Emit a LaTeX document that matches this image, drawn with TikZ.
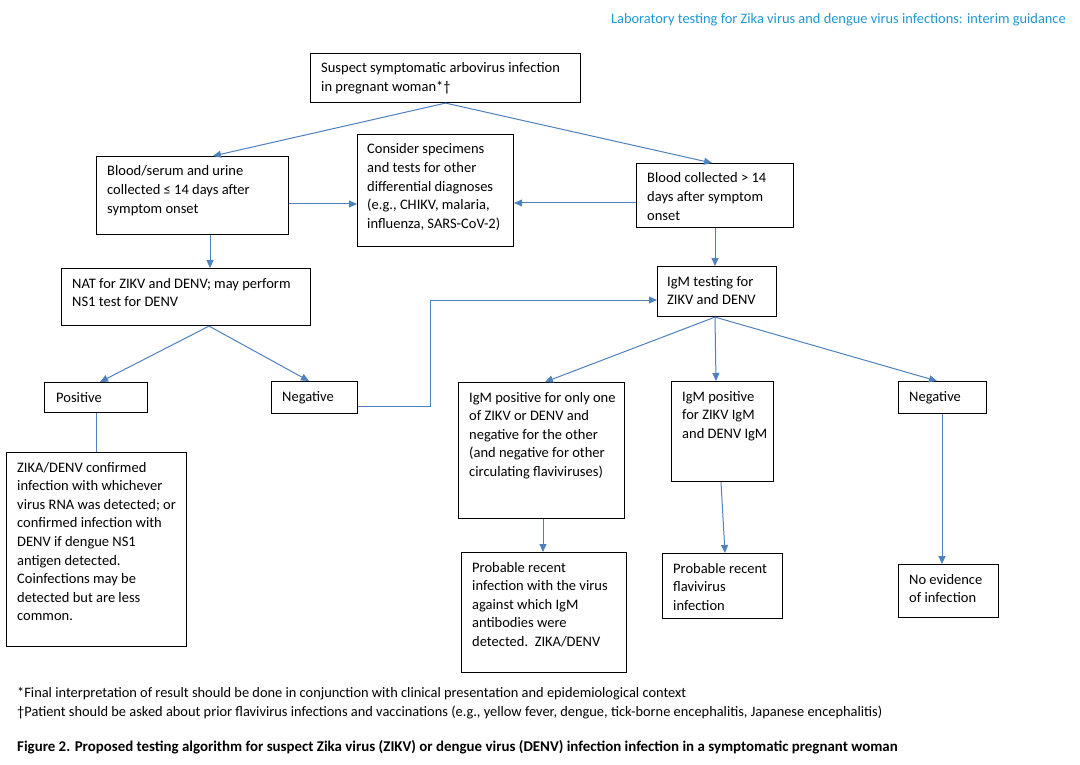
\documentclass[tikz,border=0pt]{standalone}
\usepackage{fontspec}
\setmainfont{Carlito}
\usetikzlibrary{arrows.meta}
\definecolor{conncol}{RGB}{79,129,189}
\definecolor{hdrcol}{RGB}{32,152,214}
\newcommand\bodyfont{\fontsize{14.5}{18.6}\selectfont}
\tikzset{
 x=1pt, y=-1pt,
 boxshape/.style={draw=black, line width=1.1pt, inner sep=0pt, anchor=north west},
 txt/.style={anchor=base west, inner sep=0pt, font=\bodyfont},
 conn/.style={draw=conncol, line width=1pt, -{Triangle[length=8pt,width=7pt]}},
 plainconn/.style={draw=conncol, line width=1pt},
}
\newcommand\bxs[7]{%
 \node[boxshape, minimum width={#4-#2}, minimum height={#5-#3}] (#1) at (#2,#3) {};
 \node[txt] (#1t) at (#2+#6, #3+20) {\begin{tabular}[t]{@{}l@{}}#7\end{tabular}};
}
\begin{document}
\begin{tikzpicture}
\useasboundingbox (0,0) rectangle (1080,765);
\fill[white] (0,0) rectangle (1080,765);
\node[anchor=base east, inner sep=0pt, font=\fontsize{14.4}{16}\selectfont, text=hdrcol] (hdr) at (1066,24) {Laboratory testing for Zika virus and dengue virus infections: interim guidance};

\bxs{top}{310}{53}{580}{102}{11}{Suspect symptomatic arbovirus infection\\in pregnant woman*†}
\bxs{bs}{96}{156}{288}{234}{11}{Blood/serum and urine\\collected ≤ 14 days after\\symptom onset}
\bxs{cons}{357}{134}{513}{246}{10}{Consider specimens\\and tests for other\\differential diagnoses\\(e.g., CHIKV, malaria,\\influenza, SARS-CoV-2)}
\bxs{gt}{636}{163}{793}{227}{11}{Blood collected > 14\\days after symptom\\onset}
\bxs{nat}{61}{268}{310}{325}{11}{NAT for ZIKV and DENV; may perform\\NS1 test for DENV}
\bxs{igm}{657}{266}{776}{316}{10}{IgM testing for\\ZIKV and DENV}
\bxs{pos}{44}{382}{147}{412}{12}{Positive}
\bxs{neg}{271}{381}{357}{413}{11}{Negative}
\bxs{conf}{6}{452}{186}{646}{11}{ZIKA/DENV confirmed\\infection with whichever\\virus RNA was detected; or\\confirmed infection with\\DENV if dengue NS1\\antigen detected.\\Coinfections may be\\detected but are less\\common.}
\bxs{one}{458}{382}{624}{518}{11}{IgM positive for only one\\of ZIKV or DENV and\\negative for the other\\(and negative for other\\circulating flaviviruses)}
\bxs{both}{671}{381}{773}{481}{11}{IgM positive\\for ZIKV IgM\\and DENV IgM}
\bxs{negr}{898}{381}{986}{413}{11}{Negative}
\bxs{prob}{461}{552}{626}{672}{11}{Probable recent\\infection with the virus\\against which IgM\\antibodies were\\detected.\ \ ZIKA/DENV}
\bxs{flav}{662}{553}{782}{618}{11}{Probable recent\\flavivirus\\infection}
\bxs{noev}{898}{564}{998}{617}{11}{No evidence\\of infection}

% connectors
\draw[conn] (top.south) -- ([xshift=117pt]bs.north west);
\draw[conn] (top.south) -- ([xshift=76pt]gt.north west);
\draw[conn] ([yshift=-48pt]bs.north east) -- ([yshift=-70pt]cons.north west);
\draw[conn] ([yshift=-40pt]gt.north west) -- ([yshift=-69pt]cons.north east);
\draw[conn] ([xshift=114pt]bs.south west) -- ([xshift=149pt]nat.north west);
\draw[conn] ([xshift=79pt]gt.south west) -- ([xshift=58pt]igm.north west);
\draw[conn] ([xshift=148pt]nat.south west) -- ([xshift=56pt]pos.north west);
\draw[conn] ([xshift=148pt]nat.south west) -- ([xshift=38pt]neg.north west);
\draw[plainconn] ([xshift=52pt]pos.south west) -- ([xshift=90pt]conf.north west);
\draw[conn] ([yshift=-25pt]neg.north east) -- ++(72,0) |- ([yshift=-34pt]igm.north west);
\draw[conn] ([xshift=58pt]igm.south west) -- ([xshift=87pt]one.north west);
\draw[conn] ([xshift=58pt]igm.south west) -- ([xshift=45pt]both.north west);
\draw[conn] ([xshift=58pt]igm.south west) -- ([xshift=39pt]negr.north west);
\draw[conn] ([xshift=85pt]one.south west) -- ([xshift=82pt]prob.north west);
\draw[conn] ([xshift=50pt]both.south west) -- ([xshift=63pt]flav.north west);
\draw[conn] ([xshift=44pt]negr.south west) -- ([xshift=44pt]noev.north west);

% footnotes
\node[anchor=base west, inner sep=0pt, font=\fontsize{14.4}{16}\selectfont] (fn1) at (17,697) {*Final interpretation of result should be done in conjunction with clinical presentation and epidemiological context};
\node[anchor=base west, inner sep=0pt, font=\fontsize{14.4}{16}\selectfont] (fn2) at (17,716) {†Patient should be asked about prior flavivirus infections and vaccinations (e.g., yellow fever, dengue, tick-borne encephalitis, Japanese encephalitis)};
\node[anchor=base west, inner sep=0pt, font=\fontsize{14.9}{16}\bfseries\selectfont] (cap) at (17,751) {Figure 2. Proposed testing algorithm for suspect Zika virus (ZIKV) or dengue virus (DENV) infection infection in a symptomatic pregnant woman};
\end{tikzpicture}
\end{document}
